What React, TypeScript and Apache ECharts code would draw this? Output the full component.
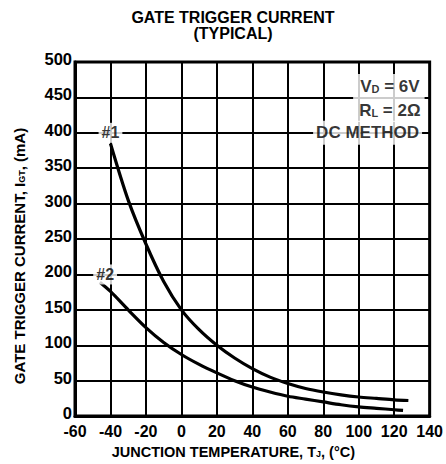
import React, { useEffect, useRef } from "react";
import * as echarts from "echarts";

const temps1 = [-40, -30, -20, -10, 0, 10, 20, 30, 40, 50, 60, 70, 80, 90, 100, 110, 120, 128];
const curve1 = [385, 305, 243, 190, 150, 122, 100, 82, 67, 55, 46, 39, 34, 30, 27, 25, 23, 22];
const temps2 = [-46, -40, -30, -20, -10, 0, 10, 20, 30, 40, 50, 60, 70, 80, 90, 100, 110, 120, 125];
const curve2 = [189, 176, 150, 125, 104, 87, 73, 61, 50, 41, 34, 28, 24, 20, 16, 13, 11, 9, 8];
const xTicks = [-60, -40, -20, 0, 20, 40, 60, 80, 100, 120, 140];
const yTicks = [0, 50, 100, 150, 200, 250, 300, 350, 400, 450, 500];
const curveLabels = [
  { name: "#1", t: -40, v: 400 },
  { name: "#2", t: -43, v: 200 },
];

const FONT = "'Liberation Sans', Arial, Helvetica, sans-serif";

export default function App() {
  const ref = useRef<HTMLDivElement>(null);
  useEffect(() => {
    document.body.style.margin = "0";
    if (!ref.current) return;
    const chart = echarts.init(ref.current, undefined, { renderer: "svg" });
    const bold = { fontFamily: FONT, fontWeight: "bold" as const, color: "#000" };
    chart.setOption({
      animation: false,
      backgroundColor: "#fff",
      title: {
        text: "GATE TRIGGER CURRENT\n(TYPICAL)",
        left: 233,
        top: 9,
        textAlign: "center",
        padding: 0,
        textStyle: { ...bold, fontSize: 16, lineHeight: 16 },
      },
      grid: {
        left: 75,
        top: 62,
        right: 13,
        bottom: 47,
        show: true,
        borderColor: "#000",
        borderWidth: 3,
      },
      xAxis: {
        type: "value",
        min: xTicks[0],
        max: xTicks[xTicks.length - 1],
        interval: 20,
        name: "{n|JUNCTION TEMPERATURE, T}{s|J}{n|, (°C)}",
        nameLocation: "middle",
        nameGap: 23,
        nameTextStyle: {
          padding: [0, 38, 0, 0],
          rich: {
            n: { ...bold, fontSize: 14.5 },
            s: { ...bold, fontSize: 9, padding: [5, 0, 0, 0] },
          },
        },
        axisLine: { onZero: false, lineStyle: { color: "#000", width: 3 } },
        axisTick: { show: false },
        axisLabel: { ...bold, fontSize: 16, margin: 7 },
        splitLine: { show: true, lineStyle: { color: "#000", width: 2 } },
      },
      yAxis: {
        type: "value",
        min: yTicks[0],
        max: yTicks[yTicks.length - 1],
        interval: 50,
        name: "{n|GATE TRIGGER CURRENT, I}{s|GT}{n|, (mA)}",
        nameLocation: "middle",
        nameGap: 48,
        nameTextStyle: {
          padding: [0, 34, 0, 0],
          rich: {
            n: { ...bold, fontSize: 15 },
            s: { ...bold, fontSize: 9, padding: [5, 0, 0, 0] },
          },
        },
        axisLine: { onZero: false, lineStyle: { color: "#000", width: 3 } },
        axisTick: { show: false },
        axisLabel: { ...bold, fontSize: 16.5, margin: 3, lineHeight: 6, verticalAlign: "bottom" },
        splitLine: { show: true, lineStyle: { color: "#000", width: 2 } },
      },
      series: [
        {
          type: "line",
          data: temps1.map((t, i) => [t, curve1[i]]),
          showSymbol: false,
          smooth: 0.3,
          lineStyle: { color: "#000", width: 3.2 },
          z: 3,
        },
        {
          type: "line",
          data: temps2.map((t, i) => [t, curve2[i]]),
          showSymbol: false,
          smooth: 0.3,
          lineStyle: { color: "#000", width: 3.2 },
          z: 3,
        },
        {
          type: "scatter",
          symbolSize: 0,
          silent: true,
          z: 6,
          data: [
            ...curveLabels.map((c) => ({
              value: [c.t, c.v],
              label: {
                show: true,
                position: "inside",
                formatter: c.name,
                ...bold,
                fontSize: 16,
                backgroundColor: "#fff",
                padding: [2, 3, 2, 3],
              },
            })),
            {
              value: [117, 449],
              label: {
                show: true,
                position: "inside",
                formatter: "{n|V}{s|D}{n| = 6V}\n{n|R}{s|L}{n| = 2Ω}",
                backgroundColor: "#fff",
                padding: [0, 4, 0, 6],
                rich: {
                  n: { ...bold, fontSize: 17, lineHeight: 24 },
                  s: { ...bold, fontSize: 11, lineHeight: 24, padding: [6, 0, 0, 0] },
                },
              },
            },
            {
              value: [105, 400],
              label: {
                show: true,
                position: "inside",
                formatter: "DC METHOD",
                ...bold,
                fontSize: 17,
                lineHeight: 20,
                backgroundColor: "#fff",
                padding: [2, 3, 2, 3],
              },
            },
          ],
        },
      ],
    });
    return () => chart.dispose();
  }, []);
  return <div ref={ref} style={{ width: 446, height: 464 }} />;
}
